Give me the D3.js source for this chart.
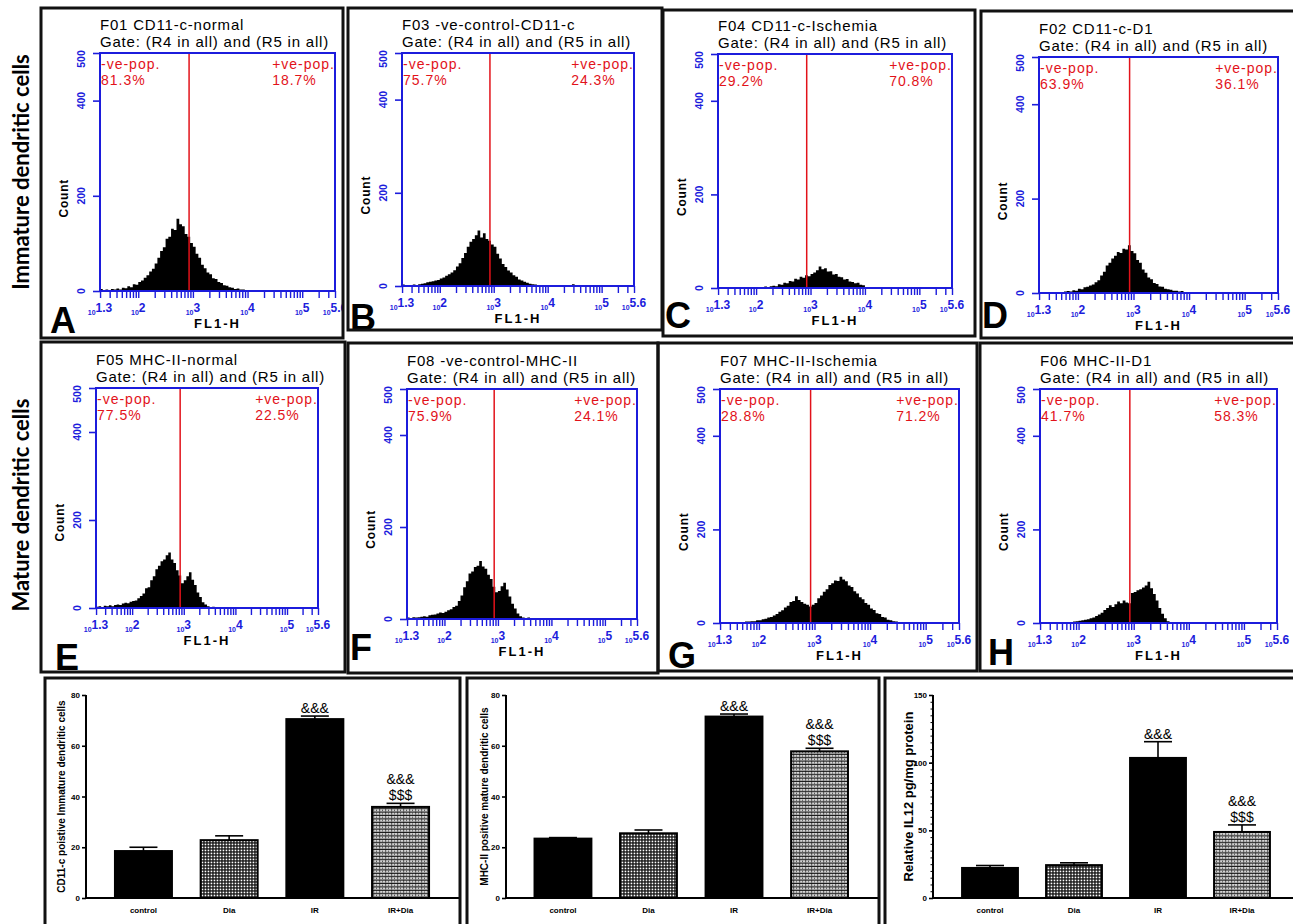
<!DOCTYPE html>
<html>
<head>
<meta charset="utf-8">
<script src="https://cdn.jsdelivr.net/npm/d3@7"></script>
<style>
  body { margin: 0; background: #fff; }
  svg { display: block; }
</style>
</head>
<body>
<svg id="fig" width="1293" height="924"></svg>
<script>
// ---- flow cytometry histograms (counts per 0.05 log-decade bin) ----
const histTitles = ["F01 CD11-c-normal", "F03 -ve-control-CD11-c", "F04 CD11-c-Ischemia", "F02 CD11-c-D1",
                    "F05 MHC-II-normal", "F08 -ve-control-MHC-II", "F07 MHC-II-Ischemia", "F06 MHC-II-D1"]
const gateText = "Gate: (R4 in all) and (R5 in all)"
const negPct = ["81.3%", "75.7%", "29.2%", "63.9%", "77.5%", "75.9%", "28.8%", "41.7%"]
const posPct = ["18.7%", "24.3%", "70.8%", "36.1%", "22.5%", "24.1%", "71.2%", "58.3%"]
const panelLetters = ["A", "B", "C", "D", "E", "F", "G", "H"]
const histStart = [1.3, 1.3, 2.05, 1.6, 1.3, 1.3, 1.6, 1.8]
const binWidth = 0.05
const gateLog = 2.93
const logDomain = [1.3, 5.6]
const logTickLabels = ["1.3", "2", "3", "4", "5", "5.6"]
const countTicks = [0, 200, 400, 500]

const countsA = [4,2,3,2,4,3,5,3,7,6,10,8,14,13,19,22,28,33,41,47,58,70,84,92,110,114,131,128,152,140,136,120,114,101,93,78,70,55,48,39,35,27,25,19,17,12,11,8,7,4,5,3,3,1,2,1,1,0,1]
const countsB = [3,1,2,2,3,2,4,5,6,8,9,10,12,13,16,18,22,25,29,34,42,49,60,71,84,95,101,109,119,104,113,101,97,89,84,69,59,47,41,33,29,23,20,14,12,9,7,5,4,3,2,2,1,1,1,0,0,0,0,0,0,0,0,4]
const countsC = [1,2,3,2,4,5,4,8,7,11,10,15,14,20,18,24,22,27,25,30,33,38,46,40,42,35,36,29,30,24,23,18,19,14,13,10,11,7,6,2]
const countsD = [1,2,1,3,4,3,6,5,9,8,12,13,16,18,23,27,37,45,58,64,73,79,87,85,94,92,101,89,84,70,64,50,43,33,29,21,19,14,13,9,8,7,5,5,3,4,2,2,1,1,1]
const countsE = [3,4,2,5,4,6,4,7,8,7,10,12,11,14,16,17,22,27,33,45,47,63,72,88,96,106,110,120,126,110,102,86,74,56,63,72,81,64,52,35,25,13,8,4,2,3,1,2,1,1]
const countsF = [3,2,4,3,4,5,6,5,8,9,10,12,14,13,16,19,21,26,29,39,51,69,82,99,103,113,116,126,114,109,96,87,70,58,61,71,79,64,49,33,23,12,6,3,2,3,1,2,1]
const countsG = [1,2,1,3,3,4,4,6,6,8,9,12,13,16,19,24,27,33,37,45,47,57,49,45,41,39,35,39,43,53,59,67,72,81,85,91,90,99,93,89,80,77,68,63,55,51,43,39,31,28,21,19,13,12,7,6,4,3,2,2,1,1]
const countsH = [1,2,3,4,5,6,7,8,10,12,15,18,22,28,32,38,34,40,46,42,48,44,42,64,66,70,72,76,80,88,74,62,48,32,20,10,4,2,1,1]
const histCounts = [countsA, countsB, countsC, countsD, countsE, countsF, countsG, countsH]

// ---- bar charts ----
const groups = ["control", "Dia", "IR", "IR+Dia"]
const cd11Means = [18.5, 22.8, 70.5, 35.9]
const cd11Err = [1.5, 1.7, 1.2, 1.4]
const mhcMeans = [23.4, 25.5, 71.5, 57.8]
const mhcErr = [0.4, 1.3, 1.0, 1.2]
const il12Means = [22.2, 24.3, 103.5, 48.8]
const il12Err = [1.8, 1.7, 12.0, 5.2]
const sigUpper = ["", "", "&&&", "&&&"]
const sigLower = ["", "", "", "$$$"]
const pctTicks = [0, 20, 40, 60, 80]
const il12Ticks = [0, 50, 100, 150]

const rowLabels = ["Immature dendritic cells", "Mature dendritic cells"]

// ---- layout ----
const BLUE = "#1c1cdc"
const RED = "#e2121a"
const FONT = "'Liberation Sans', Arial, sans-serif"

const histLayout = [
  { frame: [41, 8, 302, 330],   plot: [100, 53, 335, 291],   letter: [50, 333] },
  { frame: [348, 8, 314, 322],  plot: [402, 53, 634, 286],   letter: [350, 330] },
  { frame: [663, 10, 312, 326], plot: [718, 54, 952, 288],   letter: [665, 328] },
  { frame: [981, 11, 330, 327], plot: [1039, 57, 1278, 293], letter: [982, 328] },
  { frame: [41, 342, 304, 330], plot: [96, 388, 318, 608],   letter: [55, 670] },
  { frame: [348, 343, 310, 330], plot: [407, 389, 637, 619], letter: [350, 660] },
  { frame: [658, 343, 319, 328], plot: [720, 389, 959, 623], letter: [668, 668] },
  { frame: [980, 343, 330, 328], plot: [1040, 389, 1277, 623], letter: [988, 665] }
]

const svg = d3.select("#fig")
const defs = svg.append("defs")

// bar fill patterns
const patDia = defs.append("pattern").attr("id", "patDia")
  .attr("patternUnits", "userSpaceOnUse").attr("width", 3).attr("height", 3)
patDia.append("rect").attr("width", 3).attr("height", 3).attr("fill", "#111")
patDia.append("rect").attr("x", 0.6).attr("y", 0.6).attr("width", 1.7).attr("height", 1.7).attr("fill", "#fff")

const patIrDia = defs.append("pattern").attr("id", "patIrDia")
  .attr("patternUnits", "userSpaceOnUse").attr("width", 6).attr("height", 3.4)
patIrDia.append("rect").attr("width", 6).attr("height", 3.4).attr("fill", "#d4d4d4")
patIrDia.append("rect").attr("x", 0).attr("y", 2.3).attr("width", 6).attr("height", 1.1).attr("fill", "#111")
patIrDia.append("rect").attr("x", 1).attr("y", 0).attr("width", 1.2).attr("height", 2.3).attr("fill", "#666")
patIrDia.append("rect").attr("x", 4).attr("y", 0.6).attr("width", 1).attr("height", 1).attr("fill", "#444")

const barFill = ["#000", "url(#patDia)", "#000", "url(#patIrDia)"]

// ---- histogram panels ----
function drawHist(i) {
  const lay = histLayout[i]
  const [fx, fy, fw, fh] = lay.frame
  const [l, t, r, b] = lay.plot

  defs.append("clipPath").attr("id", "clip" + i)
    .append("rect").attr("x", fx).attr("y", fy).attr("width", fw).attr("height", fh)
  const g = svg.append("g").attr("clip-path", `url(#clip${i})`)

  const x = d3.scaleLog().domain([10 ** logDomain[0], 10 ** logDomain[1]]).range([l, r])
  const y = d3.scaleLinear().domain([0, 500]).range([b, t])
  const lo = k => 10 ** (histStart[i] + k * binWidth)

  const steps = histCounts[i].map((c, k) => ({ v: lo(k), c })).concat([{ v: lo(histCounts[i].length), c: 0 }])
  const area = d3.area()
    .x(d => x(d.v)).y0(b).y1(d => y(d.c))
    .curve(d3.curveStepAfter)
  g.append("path").datum(steps).attr("d", area).attr("fill", "#000")

  // gate marker
  g.append("line")
    .attr("x1", x(10 ** gateLog)).attr("x2", x(10 ** gateLog))
    .attr("y1", t).attr("y2", b)
    .attr("stroke", RED).attr("stroke-width", 1.5)

  // blue plot box
  g.append("rect").attr("x", l).attr("y", t).attr("width", r - l).attr("height", b - t)
    .attr("fill", "none").attr("stroke", BLUE).attr("stroke-width", 2)

  // log ticks
  const ticks = x.ticks().concat([10 ** logDomain[1]])
  g.append("g").attr("transform", `translate(0,${b})`)
    .call(d3.axisBottom(x).tickValues(ticks).tickSize(7).tickFormat(""))
    .call(s => {
      s.select(".domain").remove()
      s.selectAll("line").attr("stroke", BLUE).attr("stroke-width", 1.4)
    })

  const xl = g.append("g").selectAll("text").data(logTickLabels).join("text")
    .attr("x", d => x(10 ** +d)).attr("y", b + 24)
    .attr("text-anchor", "middle").attr("fill", BLUE)
    .attr("font-family", FONT).attr("font-weight", "bold")
  xl.append("tspan").attr("font-size", 7).text("10")
  xl.append("tspan").attr("font-size", 12).attr("dy", -3).text(d => d)

  g.append("g").attr("transform", `translate(${l},0)`)
    .call(d3.axisLeft(y).tickValues(countTicks).tickSize(7).tickFormat(""))
    .call(s => {
      s.select(".domain").remove()
      s.selectAll("line").attr("stroke", BLUE).attr("stroke-width", 1.6)
    })
  g.append("g").selectAll("text").data(countTicks).join("text")
    .attr("transform", d => `translate(${l - 15},${y(d) + (d === 500 ? 6 : 0)}) rotate(-90)`)
    .attr("text-anchor", "middle")
    .attr("fill", BLUE).attr("font-family", FONT).attr("font-weight", "bold").attr("font-size", 10.5)
    .text(d => d)

  // axis titles
  g.append("text")
    .attr("transform", `translate(${l - 32},${t + 0.61 * (b - t)}) rotate(-90)`)
    .attr("text-anchor", "middle").attr("font-family", FONT).attr("font-weight", "bold")
    .attr("font-size", 12).attr("letter-spacing", 0.8).text("Count")
  g.append("text")
    .attr("x", (l + r) / 2).attr("y", b + 37)
    .attr("text-anchor", "middle").attr("font-family", FONT).attr("font-weight", "bold")
    .attr("font-size", 13).attr("letter-spacing", 2).text("FL1-H")

  // header
  g.append("text").attr("x", l).attr("y", t - 23)
    .attr("font-family", FONT).attr("font-size", 15).attr("letter-spacing", 0.8).text(histTitles[i])
  g.append("text").attr("x", l).attr("y", t - 6)
    .attr("font-family", FONT).attr("font-size", 15).attr("letter-spacing", 0.8).text(gateText)

  // gate percentages
  const pop = g.append("g").attr("fill", RED).attr("font-family", FONT)
    .attr("font-size", 14).attr("letter-spacing", 1)
  pop.append("text").attr("x", l + 1).attr("y", t + 16).text("-ve-pop.")
  pop.append("text").attr("x", l + 1).attr("y", t + 32).text(negPct[i])
  const plusTxt = pop.append("text").attr("x", r).attr("y", t + 16)
    .attr("text-anchor", "end").text("+ve-pop.")
  const startX = plusTxt.node().getBBox().x
  pop.append("text").attr("x", startX).attr("y", t + 32).text(posPct[i])

  // panel letter
  g.append("text").attr("x", lay.letter[0]).attr("y", lay.letter[1])
    .attr("font-family", FONT).attr("font-weight", "bold").attr("font-size", 36)
    .text(panelLetters[i])

  // frame
  svg.append("rect").attr("x", fx).attr("y", fy).attr("width", fw).attr("height", fh)
    .attr("fill", "none").attr("stroke", "#111").attr("stroke-width", 3)
}

d3.range(8).forEach(drawHist)

// ---- bar chart panels ----
const barPanels = [
  { frame: [45, 678, 415, 260], axisX: 86, xEnd: 459, band: [100.6, 443.4], max: 80, ticks: pctTicks,
    means: cd11Means, errs: cd11Err, label: "CD11-c poistive Immature dendritic cells", labelSize: 10, labelDx: 21 },
  { frame: [467, 678, 412, 260], axisX: 506, xEnd: 878, band: [520.2, 862.3], max: 80, ticks: pctTicks,
    means: mhcMeans, errs: mhcErr, label: "MHC-II positive mature dendritic cells", labelSize: 10, labelDx: 18 },
  { frame: [885, 678, 420, 260], axisX: 933, xEnd: 1293, band: [948, 1284], max: 150, ticks: il12Ticks,
    means: il12Means, errs: il12Err, label: "Relative IL12 pg/mg protein", labelSize: 13, labelDx: 20, minor: 5 }
]

function drawBars(cfg) {
  const y0 = 898, yTop = 695
  const x = d3.scaleBand().domain(groups).range(cfg.band).paddingInner(0.335).paddingOuter(0.1675)
  const y = d3.scaleLinear().domain([0, cfg.max]).range([y0, yTop])
  const g = svg.append("g")
  const rows = groups.map((name, k) => ({ name, mean: cfg.means[k], err: cfg.errs[k], k }))

  // error bars
  const eb = g.append("g").attr("stroke", "#000").attr("stroke-width", 1.6)
  eb.selectAll(".stem").data(rows).join("line")
    .attr("x1", d => x(d.name) + x.bandwidth() / 2).attr("x2", d => x(d.name) + x.bandwidth() / 2)
    .attr("y1", d => y(d.mean)).attr("y2", d => y(d.mean + d.err))
  eb.selectAll(".cap").data(rows).join("line")
    .attr("x1", d => x(d.name) + x.bandwidth() / 2 - 14).attr("x2", d => x(d.name) + x.bandwidth() / 2 + 14)
    .attr("y1", d => y(d.mean + d.err)).attr("y2", d => y(d.mean + d.err))

  g.append("g").selectAll("rect").data(rows).join("rect")
    .attr("x", d => x(d.name)).attr("width", x.bandwidth())
    .attr("y", d => y(d.mean)).attr("height", d => y0 - y(d.mean))
    .attr("fill", d => barFill[d.k]).attr("stroke", "#000").attr("stroke-width", 2)

  // significance marks
  const sig = g.append("g").attr("font-family", FONT).attr("font-size", 14).attr("text-anchor", "middle")
  rows.forEach(d => {
    const cx = x(d.name) + x.bandwidth() / 2
    const capY = y(d.mean + d.err)
    if (sigLower[d.k]) {
      sig.append("text").attr("x", cx).attr("y", capY - 3).text(sigLower[d.k])
      sig.append("text").attr("x", cx).attr("y", capY - 19).text(sigUpper[d.k])
    } else if (sigUpper[d.k]) {
      sig.append("text").attr("x", cx).attr("y", capY - 3).text(sigUpper[d.k])
    }
  })

  // axes
  if (cfg.minor) {
    g.append("g").attr("transform", `translate(${cfg.axisX},0)`)
      .call(d3.axisLeft(y).tickValues(d3.range(0, cfg.max + 0.1, cfg.minor)).tickSize(2.5).tickFormat(""))
      .call(s => { s.select(".domain").remove(); s.selectAll("line").attr("stroke-width", 1) })
  }
  g.append("g").attr("transform", `translate(${cfg.axisX},0)`)
    .call(d3.axisLeft(y).tickValues(cfg.ticks).tickSize(4).tickPadding(2))
    .call(s => {
      s.select(".domain").attr("stroke-width", 2).attr("d", `M0,${yTop}V${y0}`)
      s.selectAll("line").attr("stroke-width", 1.6)
      s.selectAll("text").attr("font-family", FONT).attr("font-weight", "bold").attr("font-size", 8)
    })
  g.append("line").attr("x1", cfg.axisX).attr("x2", cfg.xEnd).attr("y1", y0).attr("y2", y0)
    .attr("stroke", "#000").attr("stroke-width", 2)

  g.append("g").selectAll("text").data(groups).join("text")
    .attr("x", d => x(d) + x.bandwidth() / 2).attr("y", 913)
    .attr("text-anchor", "middle").attr("font-family", FONT).attr("font-weight", "bold").attr("font-size", 8)
    .text(d => d)

  g.append("text")
    .attr("transform", `translate(${cfg.axisX - cfg.labelDx},${(y0 + yTop) / 2}) rotate(-90)`)
    .attr("text-anchor", "middle").attr("font-family", FONT).attr("font-weight", "bold")
    .attr("font-size", cfg.labelSize).text(cfg.label)

  const [fx, fy, fw, fh] = cfg.frame
  svg.append("rect").attr("x", fx).attr("y", fy).attr("width", fw).attr("height", fh)
    .attr("fill", "none").attr("stroke", "#111").attr("stroke-width", 3)
}

barPanels.forEach(drawBars)

// ---- row labels ----
svg.selectAll(".rowLabel").data(rowLabels).join("text")
  .attr("class", "rowLabel")
  .attr("transform", (d, k) => `translate(29,${k === 0 ? 172 : 505}) rotate(-90)`)
  .attr("text-anchor", "middle")
  .attr("font-family", "Lato, 'Open Sans', sans-serif").attr("font-weight", "bold").attr("font-size", 22)
  .text(d => d)
</script>
</body>
</html>
